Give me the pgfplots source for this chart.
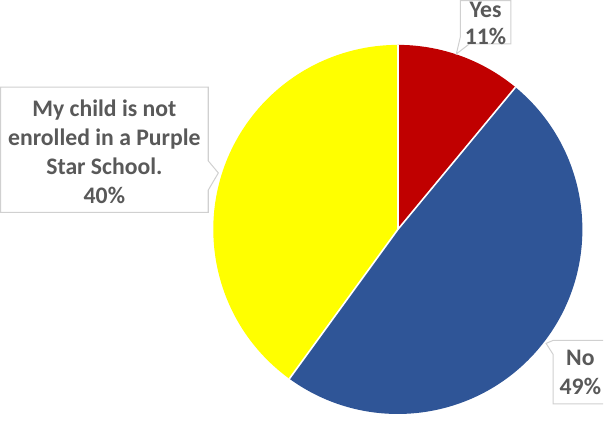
\documentclass[border=0pt]{standalone}
\usepackage{pgfplots}
\usepackage{pgfplotstable}
\pgfplotsset{compat=1.18}
\usepackage{fontspec}
\setmainfont{Carlito}
\definecolor{pieRed}{HTML}{C00000}
\definecolor{pieBlue}{HTML}{2F5597}
\definecolor{pieYellow}{HTML}{FFFF00}
\definecolor{lblGray}{HTML}{595959}
\definecolor{boxGray}{HTML}{D0D0D0}
\pgfplotstableread{
label share
Yes 11
No 49
NotEnrolled 40
}\piedata
\pgfplotstablegetelem{0}{share}\of\piedata \let\vYes\pgfplotsretval
\pgfplotstablegetelem{1}{share}\of\piedata \let\vNo\pgfplotsretval
\pgfplotstablegetelem{2}{share}\of\piedata \let\vNot\pgfplotsretval
\pgfmathsetmacro\aA{90}
\pgfmathsetmacro\aB{\aA-3.6*\vYes}
\pgfmathsetmacro\aC{\aB-3.6*\vNo}
\pgfmathsetmacro\aD{\aC-3.6*\vNot}
\begin{document}
\begin{tikzpicture}
\begin{axis}[
  scale only axis, width=605bp, height=416bp,
  xmin=0, xmax=605, ymin=0, ymax=416, y dir=reverse,
  hide axis, clip=false,
]
% pie wedges
\fill[pieRed]    (axis cs:401,231) -- ++(\aA:183bp) arc[start angle=\aA, end angle=\aB, radius=183bp] -- cycle;
\fill[pieBlue]   (axis cs:401,231) -- ++(\aB:183bp) arc[start angle=\aB, end angle=\aC, radius=183bp] -- cycle;
\fill[pieYellow] (axis cs:401,231) -- ++(\aC:183bp) arc[start angle=\aC, end angle=\aD, radius=183bp] -- cycle;
% white separators
\draw[white, line width=1.6bp] (axis cs:401,231) -- ++(\aA:183bp);
\draw[white, line width=1.6bp] (axis cs:401,231) -- ++(\aB:183bp);
\draw[white, line width=1.6bp] (axis cs:401,231) -- ++(\aC:183bp);
% callout boxes
\filldraw[fill=white, draw=boxGray, line width=1bp]
  (axis cs:7,90) -- (axis cs:213,90) -- (axis cs:213,163) -- (axis cs:223,175)
  -- (axis cs:213,192) -- (axis cs:213,214) -- (axis cs:7,214) -- cycle;
\filldraw[fill=white, draw=boxGray, line width=1bp]
  (axis cs:463,4) -- (axis cs:513,4) -- (axis cs:513,47) -- (axis cs:472,47)
  -- (axis cs:459,57) -- (axis cs:463,40) -- cycle;
\filldraw[fill=white, draw=boxGray, line width=1bp]
  (axis cs:604.5,341) -- (axis cs:555,341) -- (axis cs:548,344) -- (axis cs:555,355)
  -- (axis cs:555,404) -- (axis cs:604.5,404);
% labels
\node[align=center, inner sep=0pt, text=lblGray, font=\bfseries\fontsize{23.5bp}{28.5bp}\selectfont]
  at (axis cs:110,154) {My child is not\\enrolled in a Purple\\Star School.\\40\%};
\node[align=center, inner sep=0pt, text=lblGray, font=\bfseries\fontsize{23.5bp}{27bp}\selectfont]
  at (axis cs:488,27) {Yes\\11\%};
\node[align=center, inner sep=0pt, text=lblGray, font=\bfseries\fontsize{23.5bp}{29bp}\selectfont]
  at (axis cs:582,373) {No\\49\%};
\end{axis}
\end{tikzpicture}
\end{document}
